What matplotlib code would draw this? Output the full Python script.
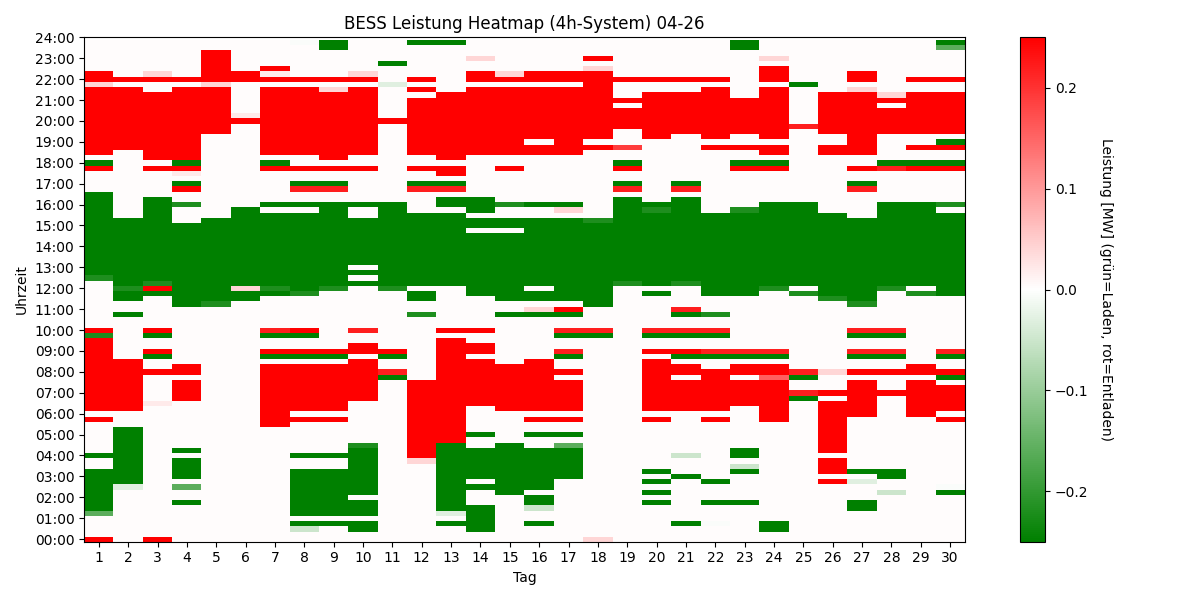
import numpy as np
import matplotlib
matplotlib.use("Agg")
import matplotlib.pyplot as plt
from matplotlib.colors import LinearSegmentedColormap

LEVELS = {
    ".": 0.002, "w": -0.005, "k": -0.03, "l": -0.05, "h": -0.16, "g": -0.22, "G": -0.25,
    "q": 0.02, "p": 0.04, "m": 0.155, "o": 0.19, "r": 0.22, "R": 0.25,
}

# one run-length string per day, starting at 00:00 (symbol + number of quarter hours)
days = list(range(1, 31))
runs = [
    "R1 .4 h1 G8 .2 G1 .6 R1 .1 R14 g1 R1 .9 g1 G16 .4 R1 G1 .1 R13 p1 R2 .6",
    ".10 k1 G11 .3 R10 .8 G1 .2 G2 g1 G13 .13 R12 .1 R1 .7",
    "R1 .25 q1 .5 R1 .2 G1 R1 .2 G1 R1 .6 G1 R1 g1 G16 .5 R1 .1 R13 .2 R1 p1 .6",
    ".7 G1 .2 h1 .1 G4 .1 G1 .9 R4 .1 R2 .11 G16 .3 g1 .2 R1 G1 .1 q1 R1 G1 R14 .1 R1 .7",
    ".45 g1 G16 .16 R9 p1 R6 .2",
    ".46 G2 p1 G15 .16 R1 q1 .6 R2 .6",
    ".22 R12 .1 G1 R1 .2 G1 r1 .6 G1 g1 G14 .1 G1 .6 R1 G1 .1 R13 .1 R1 q1 R1 .5",
    ".2 l1 G1 .1 G9 .2 G1 .6 R1 .1 R9 .1 G1 R1 .2 G1 R1 .6 g1 G15 .1 G1 .2 r1 G1 .2 R1 .2 R13 .1 R1 .6 w1",
    ".3 G1 .1 G9 .2 G1 .6 R1 .1 R9 .1 G1 R1 .11 g1 G16 .2 r1 G1 .2 R1 .1 R13 p1 .1 R1 .5 G2",
    ".2 G2 .1 G3 .1 G9 g1 .8 R8 .1 R2 .2 r1 .8 G1 .1 G1 .1 G9 .2 G1 .6 R1 .2 R13 .1 R1 p1 .6",
    ".31 G1 r1 .2 G1 R1 .11 g1 G16 .15 R1 .6 k1 .3 G1 .4",
    ".15 p1 R15 .12 g1 .2 G2 .1 G14 .4 r1 G1 .2 R1 .2 R11 .1 R1 .1 R1 .6 G1",
    ".3 G1 .1 k1 G13 R20 .1 R1 .8 G14 .1 G2 .1 r1 G1 .1 R2 .1 R13 .9 G1",
    ".2 G5 .3 G1 .1 G6 .2 G1 .5 R9 .1 R2 .2 R1 .6 G12 .1 G2 .1 G3 .8 R13 .1 R2 .2 p1 .3",
    ".9 G10 .6 R9 .9 G1 .2 G13 .1 G2 .2 g1 .6 R1 .2 R13 .1 R1 p1 .6",
    ".3 G1 .2 l1 G2 .1 G8 .2 G1 .2 R1 .1 R10 .8 G1 p1 .1 G2 .1 G13 .2 G1 .9 R2 .1 R10 .1 R2 .6",
    ".12 G6 h1 .1 G1 .2 R1 .1 R6 .1 R1 .2 G1 r1 .2 G1 r1 .2 G1 R1 .1 G16 .1 p1 G1 .9 R13 .1 R2 .6",
    "p1 .38 G1 r1 .4 G16 g1 .13 R1 .1 R13 p1 .1 R1 .3",
    ".49 g1 G16 .1 r1 G1 .2 R1 G1 .2 o1 .3 R4 .1 R1 .3 R1 .7",
    ".7 G1 .1 G1 .1 G1 .1 G1 .9 R1 .1 R10 .1 R1 .2 G1 r1 .6 G1 .1 G14 g1 G1 .12 R9 .2 R1 .7",
    ".3 G1 .8 G1 .3 l1 .8 R6 .1 R2 .1 G1 R1 .2 G1 r1 .2 G1 r1 .4 g1 G16 .1 r1 G1 .9 R8 .2 R1 .7",
    ".3 w1 .3 G1 .3 G1 .11 R1 .1 R8 .2 G1 r1 .2 G1 r1 .2 g1 .3 G16 .12 R1 .1 R10 .1 R1 .7",
    ".7 G1 .5 G1 l1 .1 G2 .8 R5 .1 R2 .1 G1 r1 .10 G16 g1 .7 R1 G1 .2 R1 .2 R7 .9 G2",
    ".2 G2 .19 R8 m1 R2 .1 G1 r1 .11 g1 G16 .6 R1 G1 .1 R2 .1 R10 .1 R3 .1 p1 .3",
    ".27 G1 r1 .2 G1 r1 .14 g1 .1 G16 .14 r1 .7 G1 .8",
    ".11 R1 .1 R3 .1 R10 .1 R1 .3 p1 .13 g1 G16 .11 R2 .2 R8 .10",
    ".6 G2 .3 k1 .1 G1 .10 R7 .1 R1 .2 G1 r1 .2 G1 r1 .4 g1 G16 .5 r1 G1 .2 R1 .2 R12 p1 .1 R2 .6",
    ".9 l1 .2 G2 .14 R1 .3 R1 .2 G1 r1 .2 G1 r1 .7 g1 G16 .6 r1 G1 .5 R5 .1 R1 p1 .10",
    ".24 R7 .1 R2 .13 g1 .1 G16 .6 R1 G1 .2 R1 .2 R8 .2 R1 .7",
    ".9 G1 w1 .12 R1 .1 R5 .1 G1 R1 .2 G1 r1 .10 G16 .1 g1 .6 R1 G1 .2 R1 G1 .1 R8 .2 R1 .5 h1 G1",
]
hour_labels = [f"{h:02d}:00" for h in range(0, 25)]


def decode(rle):
    vals = []
    for tok in rle.split():
        vals += [LEVELS[tok[0]]] * int(tok[1:])
    return vals


cols = [decode(r) for r in runs]
bad = [(d, len(c)) for d, c in zip(days, cols) if len(c) != 96]
if bad:
    raise ValueError(f"wrong lengths: {bad}")
grid = np.array(cols).T          # (96 quarter hours, 30 days)

cmap = LinearSegmentedColormap.from_list("laden_entladen", ["green", "white", "red"])

fig, ax = plt.subplots(figsize=(12, 6))
im = ax.imshow(grid, origin="lower", aspect="auto", cmap=cmap,
               vmin=-0.25, vmax=0.25, interpolation="nearest")
ax.set_xticks(range(len(days)))
ax.set_xticklabels(days)
ax.set_yticks(range(0, 97, 4))
ax.set_yticklabels(hour_labels)
ax.set_xlabel("Tag")
ax.set_ylabel("Uhrzeit")
ax.set_title("BESS Leistung Heatmap (4h-System) 04-26")
cb = fig.colorbar(im, ax=ax)
cb.set_label("Leistung [MW] (grün=Laden, rot=Entladen)", rotation=270, labelpad=18)
fig.tight_layout()
fig.savefig("out.png", dpi=100)
